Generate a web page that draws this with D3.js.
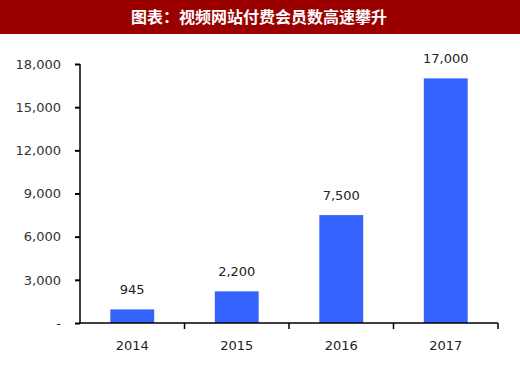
<!DOCTYPE html>
<html>
<head>
<meta charset="utf-8">
<script src="https://d3js.org/d3.v7.min.js"></script>
<style>
  body { margin: 0; background: #fff; }
  svg { display: block; }
</style>
</head>
<body>
<div id="chart"></div>
<script>
var title = '图表：视频网站付费会员数高速攀升';
var years = ['2014', '2015', '2016', '2017'];
var members = [945, 2200, 7500, 17000];
var yTicks = [0, 3000, 6000, 9000, 12000, 15000, 18000];

var width = 520, height = 367;
var margin = {top: 64, right: 22, bottom: 44, left: 80};
var innerW = width - margin.left - margin.right,
    innerH = height - margin.top - margin.bottom;

var svg = d3.select('#chart').append('svg')
  .attr('width', width)
  .attr('height', height);

// title banner
svg.append('rect')
  .attr('x', 0).attr('y', 0)
  .attr('width', width).attr('height', 34)
  .attr('fill', '#9a0000');

svg.append('text')
  .attr('x', width / 2 - 1)
  .attr('y', 23)
  .attr('text-anchor', 'middle')
  .attr('fill', '#fff')
  .style('font-family', '"Noto Sans CJK SC", sans-serif')
  .style('font-size', '16px')
  .style('font-weight', 'bold')
  .text(title);

var x = d3.scaleBand().domain(years).range([0, innerW]).paddingInner(0.58).paddingOuter(0.29);
var y = d3.scaleLinear().domain([0, 18000]).range([innerH, 0]);

var g = svg.append('g')
  .attr('transform', 'translate(' + margin.left + ',' + margin.top + ')');

var fmt = d3.format(',');

// y axis
var yAxis = g.append('g')
  .call(d3.axisLeft(y)
    .tickValues(yTicks)
    .tickSize(5)
    .tickPadding(14)
    .tickFormat(function(d) { return d === 0 ? '-' : fmt(d); }));
yAxis.select('.domain').attr('d', 'M0,' + innerH + 'V0').attr('stroke', '#000').attr('stroke-width', 1.5);
yAxis.selectAll('.tick line').attr('stroke', '#000').attr('stroke-width', 2);
yAxis.selectAll('text')
  .style('font-family', '"DejaVu Sans", sans-serif')
  .style('font-size', '13px')
  .attr('fill', '#333');

// bars
g.selectAll('rect.bar')
  .data(members)
  .enter().append('rect')
  .attr('class', 'bar')
  .attr('x', function(d, i) { return x(years[i]); })
  .attr('y', function(d) { return y(d); })
  .attr('width', x.bandwidth())
  .attr('height', function(d) { return innerH - y(d); })
  .attr('fill', '#3563fe');

// value labels
g.selectAll('text.val')
  .data(members)
  .enter().append('text')
  .attr('class', 'val')
  .attr('x', function(d, i) { return x(years[i]) + x.bandwidth() / 2; })
  .attr('y', function(d) { return y(d) - 15; })
  .attr('text-anchor', 'middle')
  .attr('fill', '#222')
  .style('font-family', '"DejaVu Sans", sans-serif')
  .style('font-size', '13px')
  .text(function(d) { return fmt(d); });

// x axis
var xAxis = g.append('g')
  .attr('transform', 'translate(0,' + innerH + ')')
  .call(d3.axisBottom(x).tickSize(0).tickPadding(18));
xAxis.select('.domain').attr('d', 'M0,0H' + innerW).attr('stroke', '#000').attr('stroke-width', 1.5);
xAxis.selectAll('text')
  .style('font-family', '"DejaVu Sans", sans-serif')
  .style('font-size', '13px')
  .attr('fill', '#222');

// category boundary ticks
var bounds = d3.range(years.length + 1).map(function(i) { return i * innerW / years.length; });
xAxis.selectAll('line.sep')
  .data(bounds.slice(1))
  .enter().append('line')
  .attr('class', 'sep')
  .attr('x1', function(d) { return d; })
  .attr('x2', function(d) { return d; })
  .attr('y1', 0).attr('y2', 6)
  .attr('stroke', '#000')
  .attr('stroke-width', 1.5);
</script>
</body>
</html>
